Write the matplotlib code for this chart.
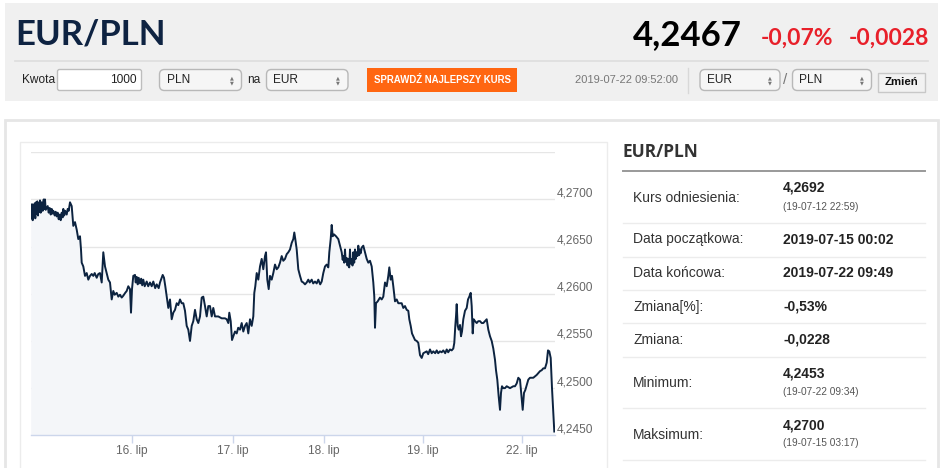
import matplotlib
matplotlib.use("Agg")
import matplotlib.pyplot as plt
from matplotlib.patches import Rectangle, FancyBboxPatch
import matplotlib.transforms as mtrans

# ---------------- data ----------------
# x: position on the (ordinal) time axis, in day units from 2019-07-15 00:02
t = [0.000, 0.006, 0.013, 0.020, 0.026, 0.033, 0.040, 0.046, 0.053, 0.060, 0.066, 0.073,
     0.080, 0.086, 0.093, 0.100, 0.110, 0.120, 0.130, 0.136, 0.143, 0.150,
     0.170, 0.180, 0.190, 0.200, 0.210, 0.220, 0.226, 0.240, 0.250, 0.260, 0.270, 0.280,
     0.290, 0.300, 0.310, 0.320, 0.326, 0.335, 0.345, 0.360, 0.370, 0.380, 0.393, 0.410,
     0.426, 0.443, 0.460, 0.476, 0.493, 0.503, 0.510, 0.526, 0.543, 0.560, 0.576, 0.593,
     0.610, 0.626, 0.640, 0.660, 0.676, 0.693, 0.710, 0.726, 0.743, 0.760, 0.776, 0.793,
     0.810, 0.826, 0.840, 0.860, 0.876, 0.893, 0.910, 0.926, 0.945, 0.960, 0.976, 0.993,
     1.003, 1.013, 1.026, 1.043, 1.050, 1.060, 1.070, 1.080, 1.093, 1.105, 1.115, 1.126,
     1.140, 1.160, 1.175, 1.193, 1.210, 1.226, 1.245, 1.260, 1.280, 1.293, 1.320, 1.333,
     1.346, 1.360, 1.376, 1.393, 1.410, 1.426, 1.443, 1.460, 1.476, 1.493, 1.510, 1.526,
     1.543, 1.560, 1.576, 1.593, 1.610, 1.626, 1.643, 1.660, 1.676, 1.693, 1.710, 1.726,
     1.743, 1.760, 1.776, 1.793, 1.810, 1.826, 1.843, 1.876, 1.910, 1.943, 1.960, 1.976,
     1.986, 2.000, 2.013, 2.026, 2.043, 2.060, 2.075, 2.093, 2.110, 2.126, 2.143, 2.160,
     2.176, 2.193, 2.210, 2.226, 2.236, 2.246, 2.260, 2.276, 2.293, 2.310, 2.326, 2.343,
     2.353, 2.366, 2.380, 2.393, 2.410, 2.426, 2.443, 2.460, 2.476, 2.493, 2.510, 2.526,
     2.543, 2.560, 2.576, 2.593, 2.610, 2.626, 2.636, 2.646, 2.660, 2.676, 2.693, 2.710,
     2.726, 2.743, 2.760, 2.776, 2.790, 2.810, 2.825, 2.843, 2.860, 2.876, 2.895, 2.910,
     2.926, 2.943, 2.960, 2.976, 2.986, 3.000, 3.010, 3.020, 3.033, 3.053, 3.076, 3.093,
     3.110, 3.120, 3.126, 3.135, 3.143, 3.150, 3.160, 3.168, 3.176, 3.185, 3.193, 3.200,
     3.210, 3.218, 3.226, 3.235, 3.243, 3.250, 3.260, 3.268, 3.276, 3.285, 3.293, 3.300,
     3.310, 3.326, 3.343, 3.360, 3.376, 3.393, 3.410, 3.426, 3.436, 3.443, 3.453, 3.470,
     3.493, 3.510, 3.526, 3.543, 3.560, 3.576, 3.586, 3.600, 3.613, 3.626, 3.643, 3.660,
     3.676, 3.693, 3.710, 3.726, 3.743, 3.760, 3.776, 3.786, 3.800, 3.813, 3.826, 3.843,
     3.860, 3.876, 3.893, 3.910, 3.926, 3.960, 3.975, 3.993, 4.010, 4.026, 4.045, 4.060,
     4.075, 4.093, 4.110, 4.126, 4.145, 4.160, 4.175, 4.193, 4.210, 4.226, 4.236, 4.246,
     4.253, 4.260, 4.270, 4.280, 4.293, 4.303, 4.313, 4.326, 4.343, 4.360, 4.373, 4.386,
     4.400, 4.410, 4.420, 4.430, 4.443, 4.460, 4.476, 4.493, 4.510, 4.526, 4.543, 4.560,
     4.576, 4.593, 4.610, 4.626, 4.643, 4.653, 4.666, 4.680, 4.693, 4.703, 4.713, 4.726,
     4.743, 4.760, 4.793, 4.826, 4.843, 4.860, 4.876, 4.893, 4.910, 4.920, 4.933, 4.946,
     4.960, 4.976, 4.993, 5.026, 5.060, 5.093, 5.110, 5.126, 5.143, 5.160, 5.173, 5.186,
     5.200, 5.213, 5.226, 5.236]

rate = [4.2693, 4.2680, 4.2695, 4.2678, 4.2694, 4.2682, 4.2696, 4.2680, 4.2697, 4.2685, 4.2698, 4.2683,
        4.2696, 4.2687, 4.2699, 4.2686, 4.2697, 4.2688, 4.2700, 4.2690, 4.2700, 4.2689,
        4.2693, 4.2686, 4.2691, 4.2684, 4.2690, 4.2685, 4.2688, 4.2683, 4.2687, 4.2682, 4.2686, 4.2679,
        4.2684, 4.2678, 4.2686, 4.2681, 4.2690, 4.2683, 4.2688, 4.2684, 4.2690, 4.2688, 4.2697, 4.2693,
        4.2672, 4.2676, 4.2668, 4.2658, 4.2661, 4.2647, 4.2633, 4.2629, 4.2619, 4.2622, 4.2615, 4.2619,
        4.2621, 4.2619, 4.2622, 4.2617, 4.2621, 4.2622, 4.2612, 4.2644, 4.2629, 4.2622, 4.2615, 4.2612,
        4.2594, 4.2603, 4.2599, 4.2601, 4.2597, 4.2599, 4.2596, 4.2598, 4.2601, 4.2603, 4.2608, 4.2605,
        4.2580, 4.2605, 4.2619, 4.2620, 4.2612, 4.2618, 4.2610, 4.2617, 4.2611, 4.2616, 4.2609, 4.2615,
        4.2608, 4.2613, 4.2608, 4.2612, 4.2608, 4.2613, 4.2606, 4.2610, 4.2606, 4.2612, 4.2620, 4.2617,
        4.2608, 4.2597, 4.2585, 4.2594, 4.2573, 4.2580, 4.2583, 4.2590, 4.2588, 4.2594, 4.2590, 4.2590,
        4.2582, 4.2566, 4.2562, 4.2550, 4.2566, 4.2571, 4.2583, 4.2573, 4.2569, 4.2576, 4.2596, 4.2597,
        4.2587, 4.2576, 4.2587, 4.2587, 4.2576, 4.2585, 4.2576, 4.2576, 4.2574, 4.2574, 4.2573, 4.2569,
        4.2580, 4.2571, 4.2551, 4.2555, 4.2560, 4.2558, 4.2564, 4.2562, 4.2569, 4.2560, 4.2566, 4.2569,
        4.2558, 4.2573, 4.2566, 4.2576, 4.2601, 4.2608, 4.2622, 4.2615, 4.2629, 4.2637, 4.2626, 4.2640,
        4.2644, 4.2615, 4.2605, 4.2619, 4.2615, 4.2622, 4.2631, 4.2626, 4.2628, 4.2633, 4.2640, 4.2635,
        4.2637, 4.2642, 4.2644, 4.2647, 4.2654, 4.2658, 4.2665, 4.2658, 4.2647, 4.2626, 4.2619, 4.2613,
        4.2612, 4.2610, 4.2612, 4.2615, 4.2612, 4.2615, 4.2611, 4.2613, 4.2611, 4.2615, 4.2610, 4.2613,
        4.2622, 4.2629, 4.2631, 4.2628, 4.2644, 4.2658, 4.2673, 4.2661, 4.2663, 4.2661, 4.2658, 4.2651,
        4.2644, 4.2636, 4.2640, 4.2633, 4.2647, 4.2634, 4.2638, 4.2630, 4.2637, 4.2628, 4.2647, 4.2632,
        4.2637, 4.2630, 4.2644, 4.2633, 4.2647, 4.2637, 4.2644, 4.2640, 4.2651, 4.2641, 4.2647, 4.2643,
        4.2649, 4.2651, 4.2644, 4.2637, 4.2633, 4.2635, 4.2629, 4.2612, 4.2597, 4.2564, 4.2590, 4.2592,
        4.2596, 4.2594, 4.2597, 4.2612, 4.2608, 4.2619, 4.2628, 4.2615, 4.2619, 4.2608, 4.2592, 4.2594,
        4.2590, 4.2590, 4.2590, 4.2585, 4.2587, 4.2583, 4.2582, 4.2573, 4.2566, 4.2558, 4.2555, 4.2551,
        4.2550, 4.2548, 4.2535, 4.2532, 4.2537, 4.2539, 4.2536, 4.2541, 4.2537, 4.2539, 4.2537, 4.2540,
        4.2537, 4.2539, 4.2538, 4.2540, 4.2537, 4.2541, 4.2538, 4.2541, 4.2540, 4.2542, 4.2548, 4.2566,
        4.2576, 4.2589, 4.2566, 4.2562, 4.2567, 4.2555, 4.2560, 4.2573, 4.2582, 4.2585, 4.2594, 4.2597,
        4.2601, 4.2587, 4.2558, 4.2573, 4.2571, 4.2569, 4.2571, 4.2571, 4.2569, 4.2569, 4.2571, 4.2573,
        4.2562, 4.2555, 4.2550, 4.2542, 4.2530, 4.2519, 4.2509, 4.2491, 4.2477, 4.2495, 4.2502, 4.2500,
        4.2500, 4.2502, 4.2500, 4.2502, 4.2502, 4.2505, 4.2511, 4.2509, 4.2488, 4.2477, 4.2495, 4.2498,
        4.2503, 4.2509, 4.2511, 4.2511, 4.2514, 4.2518, 4.2519, 4.2521, 4.2521, 4.2527, 4.2540, 4.2539,
        4.2532, 4.2500, 4.2473, 4.2454]

x_end = 5.243
tick_pos = [1.016, 2.020, 2.936, 3.926, 4.916]
tick_labels = ["16. lip", "17. lip", "18. lip", "19. lip", "22. lip"]
y_grid = [4.2450, 4.2500, 4.2550, 4.2600, 4.2650, 4.2700, 4.2750]
y_labels = [4.2450, 4.2500, 4.2550, 4.2600, 4.2650, 4.2700]

pair = "EUR/PLN"
last_rate = "4,2467"
chg_pct = "-0,07%"
chg_abs = "-0,0028"
amount = "1000"
timestamp = "2019-07-22 09:52:00"
button_text = "SPRAWDŹ NAJLEPSZY KURS"

info_labels = ["Kurs odniesienia:", "Data początkowa:", "Data końcowa:", "Zmiana[%]:",
               "Zmiana:", "Minimum:", "Maksimum:"]
info_values = ["4,2692", "2019-07-15 00:02", "2019-07-22 09:49", "-0,53%",
               "-0,0228", "4,2453", "4,2700"]
info_sub = ["(19-07-12 22:59)", "", "", "", "", "(19-07-22 09:34)", "(19-07-15 03:17)"]

# ---------------- figure ----------------
W, H = 945, 468
fig = plt.figure(figsize=(W / 100, H / 100), dpi=100)
fig.patch.set_facecolor("white")

pg = fig.add_axes([0, 0, 1, 1])
pg.set_xlim(0, W)
pg.set_ylim(H, 0)
pg.axis("off")

SANS = ["Liberation Sans", "DejaVu Sans"]
TITLE = ["Lato", "DejaVu Sans"]

# header panel
pg.add_patch(Rectangle((5, 3), 933, 98, facecolor="#f0f0f0", edgecolor="none"))
pg.plot([15, 928], [60.7, 60.7], color="#dddddd", lw=1.2)
pg.text(15, 45, pair, fontsize=25, fontweight="bold", color="#0e2342",
        family=TITLE, va="baseline", ha="left")
pg.text(742, 45, last_rate, fontsize=25, fontweight="bold", color="#000000",
        family=TITLE, va="baseline", ha="right")
pg.text(833, 45, chg_pct, fontsize=16.5, fontweight="bold", color="#e8202a",
        family=TITLE, va="baseline", ha="right")
pg.text(929, 45, chg_abs, fontsize=16.5, fontweight="bold", color="#e8202a",
        family=TITLE, va="baseline", ha="right")

# controls row
cy = 80
pg.text(22, cy, "Kwota", fontsize=8.6, color="#222222", family=SANS, va="center")
pg.add_patch(FancyBboxPatch((57.5, 69.5), 84, 21, boxstyle="round,pad=0,rounding_size=2",
                            facecolor="white", edgecolor="#bdbdbd", lw=1))
pg.text(137, cy, amount, fontsize=8.6, color="#222222", family=SANS, va="center", ha="right")


def select(x0, x1, label):
    pg.add_patch(FancyBboxPatch((x0, 69.5), x1 - x0, 21, boxstyle="round,pad=0,rounding_size=5",
                                facecolor="#f6f6f6", edgecolor="#b8b8b8", lw=1))
    pg.text(x0 + 7, cy, label, fontsize=8.6, color="#222222", family=SANS, va="center")
    pg.text(x1 - 10, cy - 2.5, "▲", fontsize=3.6, color="#777777", ha="center", va="center")
    pg.text(x1 - 10, cy + 2.5, "▼", fontsize=3.6, color="#777777", ha="center", va="center")


select(159.5, 241.5, "PLN")
pg.text(247, cy, "na", fontsize=8.6, color="#222222", family=SANS, va="center")
select(266.5, 348, "EUR")
pg.add_patch(Rectangle((367, 68), 150, 24, facecolor="#ff6611", edgecolor="none"))
pg.text(442, cy, button_text, fontsize=6.9, fontweight="bold", color="white",
        family=SANS, va="center", ha="center")
pg.text(678, cy, timestamp, fontsize=8.0, color="#777777", family=SANS, va="center", ha="right")
pg.plot([688, 688], [68, 93], color="#d8d8d8", lw=1)
select(700, 780, "EUR")
pg.text(785.5, cy, "/", fontsize=11, color="#777777", family=SANS, va="center", ha="center")
select(792.5, 871.5, "PLN")
pg.add_patch(Rectangle((878, 72.5), 47, 19, facecolor="#f2f2f2", edgecolor="#c8c8c8", lw=1))
pg.text(901.5, cy + 2, "Zmień", fontsize=8.2, fontweight="bold", color="#111111",
        family=SANS, va="center", ha="center")

# body panel
pg.add_patch(Rectangle((5, 120), 933, 360, facecolor="white", edgecolor="#e6e6e6", lw=2))
pg.add_patch(Rectangle((20, 142), 587, 340, facecolor="white", edgecolor="#ececec", lw=1))

# right info panel
pg.text(623, 157, pair, fontsize=12.5, fontweight="bold", color="#333333",
        family=["Open Sans", "DejaVu Sans"], va="baseline", ha="left")
pg.plot([623, 925], [170.7, 170.7], color="#999999", lw=1.4)
row_center = [198, 239.5, 273.3, 306.7, 340, 383.3, 435]
row_sep = [223.3, 256.7, 290, 323.3, 356.7, 408.3, 460]
for lab, val, sub, yc, ys in zip(info_labels, info_values, info_sub, row_center, row_sep):
    pg.text(633, yc, lab, fontsize=10, color="#333333", family=SANS, va="center")
    if sub:
        pg.text(783, yc - 10, val, fontsize=10, fontweight="bold", color="#222222",
                family=SANS, va="center")
        pg.text(783, yc + 8.5, sub, fontsize=7.3, color="#555555", family=SANS, va="center")
    else:
        pg.text(783, yc, val, fontsize=10, fontweight="bold", color="#222222",
                family=SANS, va="center")
    pg.plot([623, 925], [ys, ys], color="#ececec", lw=1)

# ---------------- chart ----------------
L, R, T, B = 30.7, 555.0, 152.3, 435.3
ax = fig.add_axes([L / W, (H - B) / H, (R - L) / W, (B - T) / H])
ax.set_facecolor("none")
ax.set_xlim(0, x_end)
ax.set_ylim(y_grid[0], y_grid[-1])

for g in y_grid[1:]:
    ax.axhline(g, color="#e6e6e6", lw=1, zorder=1)

ax.fill_between(t, rate, y_grid[0], color="#f4f6f9", lw=0, zorder=2)
ax.plot(t, rate, color="#0c2340", lw=1.4, zorder=3, solid_joinstyle="round")

for s in ["top", "right", "left"]:
    ax.spines[s].set_visible(False)
ax.spines["bottom"].set_color("#ccd6eb")
ax.spines["bottom"].set_linewidth(1)
ax.spines["bottom"].set_zorder(4)

ax.set_yticks([])
ax.set_xticks(tick_pos)
ax.set_xticklabels(tick_labels, fontsize=8.6, color="#666666", family=SANS)
ax.tick_params(axis="x", length=6, width=1, color="#ccd6eb", pad=1)

lab_tr = mtrans.offset_copy(ax.get_yaxis_transform(), fig=fig, x=2.0, y=6.0, units="dots")
for v in y_labels:
    ax.text(1.0, v, f"{v:.4f}".replace(".", ","), transform=lab_tr, fontsize=8.6,
            color="#666666", family=SANS, ha="left", va="center", clip_on=False)

fig.savefig("out.png", dpi=100, facecolor="white")
